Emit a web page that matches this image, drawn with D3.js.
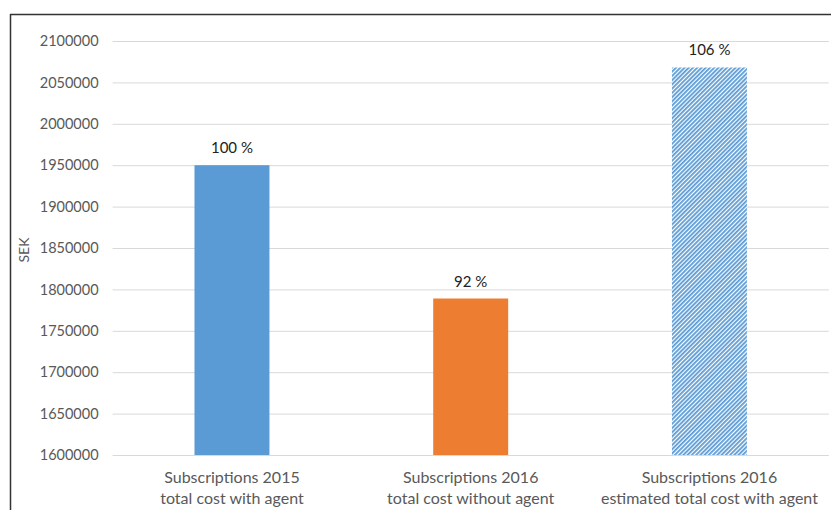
<!DOCTYPE html>
<html><head><meta charset="utf-8">
<script src="https://cdn.jsdelivr.net/npm/d3@7"></script>
<style>body{margin:0;background:#fff;} svg{display:block;}</style>
</head><body>
<svg id="chart" width="831" height="510"></svg>
<script>
const categories = [
  ["Subscriptions 2015", "total cost with agent"],
  ["Subscriptions 2016", "total cost without agent"],
  ["Subscriptions 2016", "estimated total cost with agent"]
];
const values = [1950000, 1789000, 2068000];
const percentLabels = ["100 %", "92 %", "106 %"];
const yTicks = [1600000, 1650000, 1700000, 1750000, 1800000, 1850000, 1900000, 1950000, 2000000, 2050000, 2100000];
const fills = ["#5B9BD5", "#ED7D31", "url(#hatch)"];

const svg = d3.select("#chart");
const font = "Lato, 'Open Sans', sans-serif";

const defs = svg.append("defs");
const pat = defs.append("pattern").attr("id", "hatch").attr("patternUnits", "userSpaceOnUse")
  .attr("width", 3).attr("height", 3).attr("patternTransform", "rotate(45)");
pat.append("rect").attr("width", 3).attr("height", 3).attr("fill", "#ffffff");
pat.append("rect").attr("width", 1.8).attr("height", 3).attr("fill", "#5B9BD5");

// frame
svg.append("line").attr("x1", 10.5).attr("x2", 10.5).attr("y1", 14).attr("y2", 510).attr("stroke", "#333").attr("stroke-width", 1.5);
svg.append("line").attr("x1", 10).attr("x2", 831).attr("y1", 14.5).attr("y2", 14.5).attr("stroke", "#333").attr("stroke-width", 1.5);

const x = d3.scaleBand().domain(d3.range(categories.length)).range([112.6, 828.8]).paddingInner(0.686).paddingOuter(0.343);
const y = d3.scaleLinear().domain([1600000, 2100000]).range([455, 41]);

// grid
const yAxis = d3.axisLeft(y).tickValues(yTicks).tickFormat(d3.format("d")).tickSize(-(828.8 - 112.6)).tickPadding(14);
const gy = svg.append("g").attr("transform", "translate(112.6,0)").call(yAxis);
gy.select(".domain").remove();
gy.selectAll(".tick line").attr("stroke", "#d9d9d9").attr("stroke-width", 1);
gy.selectAll(".tick text").attr("fill", "#595959").style("font-family", font).style("font-size", "14.5px");

// bars
svg.append("g").selectAll("rect").data(values).join("rect")
  .attr("x", (d, i) => x(i)).attr("width", x.bandwidth())
  .attr("y", d => y(d)).attr("height", d => y(1600000) - y(d))
  .attr("fill", (d, i) => fills[i]);

// value labels
svg.append("g").selectAll("text").data(values).join("text")
  .attr("x", (d, i) => x(i) + x.bandwidth() / 2).attr("y", d => y(d) - 12)
  .attr("text-anchor", "middle").attr("fill", "#222")
  .style("font-family", font).style("font-size", "15px")
  .text((d, i) => percentLabels[i]);

// category labels
const cg = svg.append("g").selectAll("text").data(categories).join("text")
  .attr("x", (d, i) => x(i) + x.bandwidth() / 2).attr("y", 483)
  .attr("text-anchor", "middle").attr("fill", "#595959")
  .style("font-family", font).style("font-size", "16px");
cg.selectAll("tspan").data(d => d).join("tspan")
  .attr("x", function() { return d3.select(this.parentNode).attr("x"); })
  .attr("dy", (d, i) => i === 0 ? 0 : 21).text(d => d);

// y title
svg.append("text").attr("transform", "translate(29,250) rotate(-90)")
  .attr("text-anchor", "middle").attr("fill", "#595959")
  .style("font-family", font).style("font-size", "14px").text("SEK");
</script>
</body></html>
